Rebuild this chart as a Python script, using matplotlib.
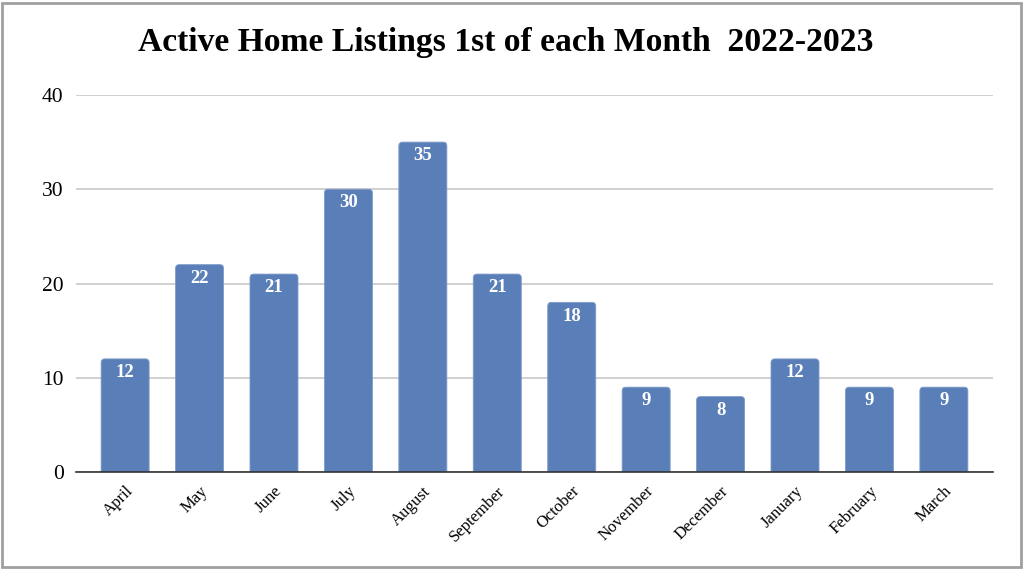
import matplotlib
matplotlib.use('Agg')
import matplotlib.pyplot as plt
from matplotlib.patches import FancyBboxPatch, Rectangle

months = ['April', 'May', 'June', 'July', 'August', 'September', 'October',
          'November', 'December', 'January', 'February', 'March']
listings = [12, 22, 21, 30, 35, 21, 18, 9, 8, 12, 9, 9]

plt.rcParams['font.family'] = ['Liberation Serif', 'DejaVu Serif']

fig = plt.figure(figsize=(10.24, 5.72), dpi=100)
ax = fig.add_axes([76 / 1024, 1 - 472 / 572, 917 / 1024, 377 / 572])

bar_color = '#5a7fb8'
bars = ax.bar(range(len(months)), listings, width=0.645, color=bar_color)

# swap plain bars for ones with slightly rounded corners
aspect = (1 / 9.425) / (1 / 74.45)
for b, v in zip(bars, listings):
    b.set_visible(False)
    fb = FancyBboxPatch((b.get_x(), -1), b.get_width(), b.get_height() + 1,
                        boxstyle='round,pad=0,rounding_size=0.05',
                        mutation_aspect=aspect, facecolor=bar_color,
                        edgecolor='#7d9bc9', linewidth=0.6, zorder=3)
    ax.add_patch(fb)
    ax.text(b.get_x() + b.get_width() / 2, v - 1.45, str(v), color='white',
            fontsize=13.5, fontweight='bold', ha='center', va='center', zorder=4)

ax.set_xlim(-0.66, len(months) - 0.34)
ax.set_ylim(0, 40)
ax.set_yticks([0, 10, 20, 30, 40])
ax.yaxis.grid(True, color='#c8c8c8', linewidth=1.2, zorder=0)
ax.set_axisbelow(True)
for s in ['top', 'right', 'left']:
    ax.spines[s].set_visible(False)
ax.spines['bottom'].set_color('#333333')
ax.spines['bottom'].set_linewidth(1.2)
ax.spines['bottom'].set_zorder(5)
ax.tick_params(axis='both', length=0)
ax.tick_params(axis='y', labelsize=15.5, pad=9)
ax.set_xticks(range(len(months)))
ax.set_xticklabels(months, rotation=45, ha='right', rotation_mode='anchor',
                   fontsize=12)
ax.tick_params(axis='x', pad=8)

fig.text(506 / 1024, 1 - 43 / 572,
         'Active Home Listings 1st of each Month  2022-2023',
         ha='center', va='center', fontsize=24.2, fontweight='bold')

fig.patches.append(Rectangle((2 / 1024, 5 / 572), 1019 / 1024, 564 / 572,
                             transform=fig.transFigure, fill=False,
                             edgecolor='#a0a0a0', linewidth=2))

fig.savefig('out.png', dpi=100)
